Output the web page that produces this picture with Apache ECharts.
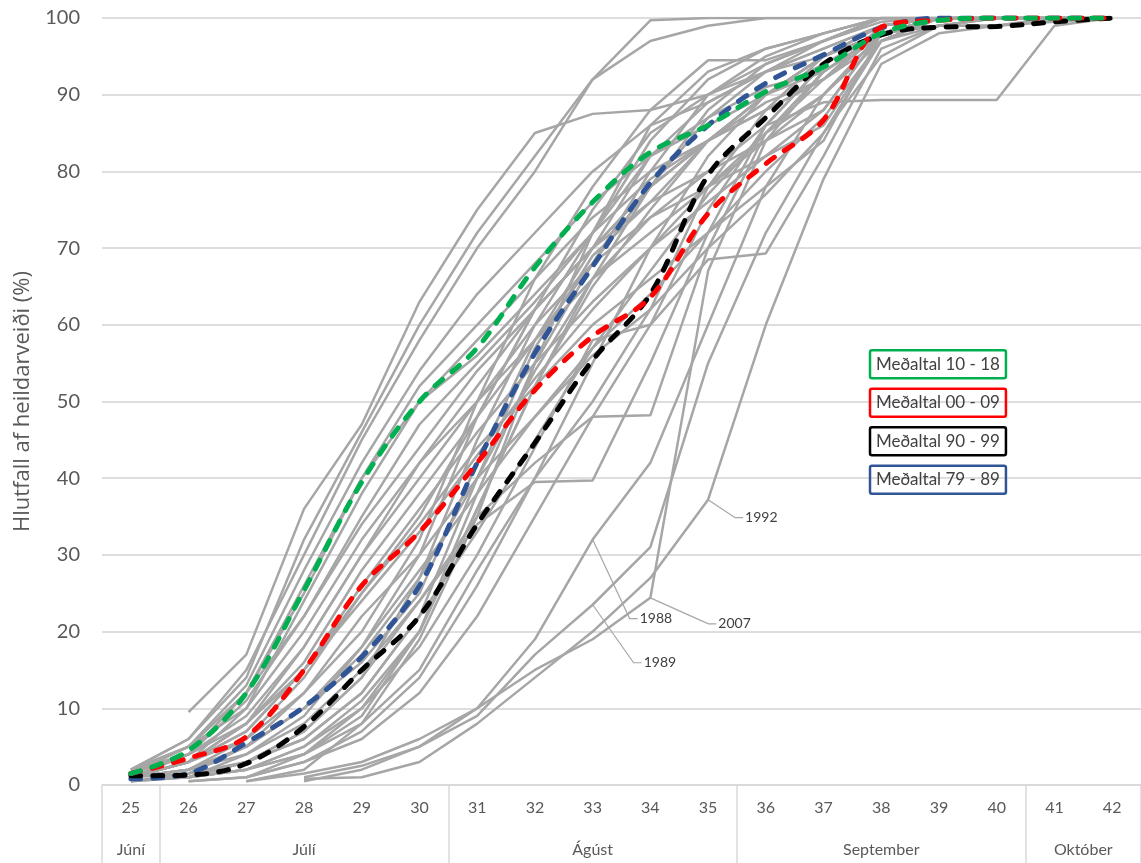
<!DOCTYPE html>
<html>
<head>
<meta charset="utf-8">
<script src="https://cdn.jsdelivr.net/npm/echarts@6/dist/echarts.min.js"></script>
<style>
  html, body { margin: 0; padding: 0; background: #ffffff; }
  #chart { width: 1141px; height: 863px; }
</style>
</head>
<body>
<div id="chart"></div>
<script>
// Week numbers on the x axis (25 .. 42)
const weeks = ['25','26','27','28','29','30','31','32','33','34','35','36','37','38','39','40','41','42'];

// Months grouping the weeks: name and index of first / last week + 1
const monthNames = ['Júní', 'Júlí', 'Ágúst', 'September', 'Október'];
const monthBounds = [0, 1, 6, 11, 16, 18];

// Cumulative share of the season's catch (%) per week, one list per year
const s1979 = [null, 1, 3, 7, 14, 27, 45, 60, 72, 84, 92, 96, 98, 100, 100, 100, 100, 100];
const s1980 = [0.5, 1, 4, 9, 18, 30, 48, 62, 70, 78, 88, 94, 97, 100, 100, 100, 100, 100];
const s1981 = [null, null, 1, 4, 10, 20, 38, 55, 68, 80, 90, 95, 98, 100, 100, 100, 100, 100];
const s1982 = [1, 2, 6, 12, 20, 32, 50, 66, 78, 88, 94.5, 94.5, 97, 100, 100, 100, 100, 100];
const s1983 = [0.5, 1.5, 5, 10, 16, 25, 42, 58, 70, 82, 89, 93, 96, 99, 100, 100, 100, 100];
const s1984 = [1, 1.5, 3, 6, 12, 22, 40, 57, 69, 76, 84, 90, 95, 99, 100, 100, 100, 100];
const s1985 = [null, 1, 2, 5, 11, 20, 36, 52, 66, 78, 87, 93, 97, 100, 100, 100, 100, 100];
const s1986 = [null, null, 0.5, 2, 8, 19, 35, 55, 72, 86, 93, 96, 98, 100, 100, 100, 100, 100];
const s1987 = [1, 3, 8, 15, 25, 35, 48, 62, 75, 85, 90, 94, 97, 99.5, 100, 100, 100, 100];
const s1988 = [null, null, null, 0.5, 2, 5, 10, 19, 32, 42, 60, 78, 90, 97, 99, 100, 100, 100];
const s1989 = [null, null, null, 1, 2.5, 5, 9, 17, 23.5, 31, 55, 72, 85, 95, 99, 100, 100, 100];
const s1990 = [null, 1, 2, 4, 8, 15, 28, 40, 50, 62, 78, 88, 95, 98, 99, 99, 100, 100];
const s1991 = [null, 0.5, 1, 3, 6, 12, 22, 35, 48, 60, 75, 86, 94, 98, 99, 99, 99.5, 100];
const s1992 = [null, null, null, 0.8, 1, 3, 8, 14, 20, 27, 37.2, 60, 79, 94, 98, 99, 100, 100];
const s1993 = [1, 2, 4, 8, 15, 24, 35, 42, 48, 48.2, 70, 85, 93, 98, 100, 100, 100, 100];
const s1994 = [null, 1, 3, 7, 14, 24, 34, 39.5, 39.7, 55, 72, 86, 94, 98, 100, 100, 100, 100];
const s1995 = [null, 1, 2, 5, 10, 18, 30, 44, 58, 60, 68.5, 69.3, 82, 96, 99, 100, 100, 100];
const s1996 = [0.5, 1, 2, 4, 9, 20, 36, 52, 65, 75, 84, 90, 95, 98, 99, 100, 100, 100];
const s1997 = [null, 0.5, 1, 3, 7, 14, 26, 40, 55, 70, 82, 90, 95, 99, 100, 100, 100, 100];
const s1998 = [1, 2, 5, 10, 17, 27, 40, 54, 66, 74, 80, 86, 89, 89.3, 89.3, 89.3, 99, 100];
const s1999 = [null, 1, 3, 6, 12, 22, 33, 45, 57, 67, 77, 85, 92, 98, 100, 100, 100, 100];
const s2000 = [1, 3, 7, 15, 26, 36, 46, 55, 63, 70, 76, 82, 88, 98, 100, 100, 100, 100];
const s2001 = [2, 4, 8, 16, 28, 38, 48, 58, 66, 72, 78, 84, 90, 98, 100, 100, 100, 100];
const s2002 = [1, 3, 6, 14, 25, 34, 44, 52, 60, 66, 72, 80, 87, 97, 100, 100, 100, 100];
const s2003 = [2, 5, 10, 20, 32, 42, 52, 62, 70, 78, 84, 88, 92, 99, 100, 100, 100, 100];
const s2004 = [1, 3, 7, 15, 24, 33, 43, 53, 62, 70, 78, 85, 90, 98, 100, 100, 100, 100];
const s2005 = [null, 2, 5, 12, 22, 30, 40, 48, 56, 62, 70, 77, 85, 97, 100, 100, 100, 100];
const s2006 = [1, 2, 5, 10, 18, 28, 38, 48, 57, 64, 72, 78, 84, 98, 100, 100, 100, 100];
const s2007 = [null, null, 0.5, 1.5, 3, 6, 10, 15, 19, 24.4, 67, 84, 93, 98, 100, 100, 100, 100];
const s2008 = [1, 4, 9, 18, 30, 40, 50, 60, 68, 74, 78, 82, 86, 97, 100, 100, 100, 100];
const s2009 = [2, 5, 12, 22, 34, 44, 54, 62, 70, 76, 80, 84, 88, 98, 100, 100, 100, 100];
const s2010 = [2, 6, 15, 30, 45, 58, 70, 80, 92, 97, 99, 100, 100, 100, 100, 100, 100, 100];
const s2011 = [1.5, 4, 12, 26, 40, 52, 60, 68, 76, 82, 86, 90, 93, 98, 100, 100, 100, 100];
const s2012 = [null, 9.5, 17, 36, 47, 63, 75, 85, 87.5, 88, 90, 93, 96, 99, 100, 100, 100, 100];
const s2013 = [1, 3, 10, 24, 38, 50, 58, 66, 74, 80, 84, 88, 92, 97, 100, 100, 100, 100];
const s2014 = [1.5, 5, 13, 28, 42, 54, 64, 72, 80, 86, 89, 93, 95, 98, 100, 100, 100, 100];
const s2015 = [2, 6, 14, 32, 46, 60, 72, 82, 92, 99.7, 100, 100, 100, 100, 100, 100, 100, 100];
const s2016 = [1, 4, 11, 22, 35, 47, 55, 63, 72, 79, 84, 89, 92, 98, 100, 100, 100, 100];
const s2017 = [1, 3, 8, 18, 30, 42, 50, 58, 68, 78, 84, 90, 94, 98, 100, 100, 100, 100];
const s2018 = [1.5, 5, 12, 25, 40, 50, 56, 64, 72, 82, 87, 91, 93, 98, 100, 100, 100, 100];

// Decade averages (%)
const avg1018 = [1.5, 4.5, 12, 25.4, 39.5, 50, 57, 67.5, 76, 82.5, 86, 90.4, 93.6, 98, 99.7, 100, 100, 100];
const avg0009 = [1.5, 3.5, 6.3, 15, 26, 33, 42, 51.5, 58.5, 63.6, 74.5, 81, 86.7, 98.8, 99.7, 100, 100, 100];
const avg9099 = [1.2, 1.3, 2.8, 7.6, 15, 22, 34, 44.6, 55.4, 64, 79.5, 87, 94, 97.8, 98.8, 98.9, 99.5, 100];
const avg7989 = [0.8, 1.5, 5.5, 10.2, 16.7, 26, 42, 56.3, 67.6, 78.5, 86, 91.5, 95.2, 98.7, 100, 100, 100, 100];

const yearly = {
  1979: s1979, 1980: s1980, 1981: s1981, 1982: s1982, 1983: s1983, 1984: s1984, 1985: s1985,
  1986: s1986, 1987: s1987, 1988: s1988, 1989: s1989, 1990: s1990, 1991: s1991, 1992: s1992,
  1993: s1993, 1994: s1994, 1995: s1995, 1996: s1996, 1997: s1997, 1998: s1998, 1999: s1999,
  2000: s2000, 2001: s2001, 2002: s2002, 2003: s2003, 2004: s2004, 2005: s2005, 2006: s2006,
  2007: s2007, 2008: s2008, 2009: s2009, 2010: s2010, 2011: s2011, 2012: s2012, 2013: s2013,
  2014: s2014, 2015: s2015, 2016: s2016, 2017: s2017, 2018: s2018
};

const averages = [
  { name: 'Meðaltal 79 - 89', data: avg7989, color: '#2f5597' },
  { name: 'Meðaltal 90 - 99', data: avg9099, color: '#000000' },
  { name: 'Meðaltal 00 - 09', data: avg0009, color: '#ff0000' },
  { name: 'Meðaltal 10 - 18', data: avg1018, color: '#00b050' }
];
const legendOrder = ['Meðaltal 10 - 18', 'Meðaltal 00 - 09', 'Meðaltal 90 - 99', 'Meðaltal 79 - 89'];

// Years whose late run gets a callout, with the week it points at
const callouts = [
  { year: 1992, week: '35', dx: 27, dy: 18 },
  { year: 2007, week: '34', dx: 58, dy: 26 },
  { year: 1988, week: '33', dx: 37, dy: 79 },
  { year: 1989, week: '33', dx: 41, dy: 58 }
];

const FONT = 'Lato, "Open Sans", sans-serif';
const TITLE_FONT = '"Open Sans", Lato, sans-serif';
const AXIS_TEXT = '#595959';
const GRID_LINE = '#dedede';

// Month label sits at the middle of its week span
const monthMid = monthNames.map((m, i) => (monthBounds[i] + monthBounds[i + 1]) / 2);

const series = [];
Object.keys(yearly).forEach(y => {
  series.push({
    name: y,
    type: 'line',
    data: yearly[y],
    symbol: 'none',
    silent: true,
    z: 2,
    lineStyle: { color: '#a6a6a6', width: 2.5 },
    emphasis: { disabled: true }
  });
});
averages.forEach((a, i) => {
  series.push({
    name: a.name,
    type: 'line',
    data: a.data,
    symbol: 'none',
    smooth: 0.35,
    z: 5 + i,
    color: a.color,
    lineStyle: { color: a.color, width: 5, type: [10, 12], cap: 'round' },
    emphasis: { disabled: true }
  });
});

const chart = echarts.init(document.getElementById('chart'), null, { renderer: 'canvas' });
chart.setOption({
  animation: false,
  backgroundColor: '#ffffff',
  textStyle: { fontFamily: FONT },
  grid: { left: 102, top: 18, width: 1044, height: 767, containLabel: false },
  legend: {
    show: true,
    orient: 'vertical',
    left: 860,
    top: 344,
    itemGap: 8,
    icon: 'none',
    itemWidth: 0,
    itemHeight: 0,
    selectedMode: false,
    data: legendOrder.map(n => {
      const a = averages.find(x => x.name === n);
      return {
        name: n,
        textStyle: {
          color: '#404040',
          fontSize: 17,
          fontFamily: FONT,
          borderColor: a.color,
          borderWidth: 2.5,
          borderRadius: 2,
          padding: [6, 6, 5, 6]
        }
      };
    })
  },
  xAxis: [
    {
      type: 'category',
      data: weeks,
      boundaryGap: true,
      axisLine: { show: true, lineStyle: { color: '#d9d9d9', width: 1.5 } },
      axisTick: { show: false },
      axisLabel: { color: AXIS_TEXT, fontSize: 16, fontFamily: FONT, margin: 15 },
      splitLine: { show: false }
    },
    {
      type: 'value',
      min: 0,
      max: monthBounds[monthBounds.length - 1],
      position: 'bottom',
      axisLine: { show: false },
      splitLine: { show: false },
      axisTick: {
        show: true,
        customValues: monthBounds,
        length: 80,
        lineStyle: { color: '#d9d9d9', width: 1.5 }
      },
      axisLabel: {
        show: true,
        customValues: monthMid,
        margin: 57,
        color: AXIS_TEXT,
        fontSize: 16,
        fontFamily: FONT,
        formatter: v => {
          const i = monthMid.findIndex(m => Math.abs(m - v) < 1e-6);
          return i >= 0 ? monthNames[i] : '';
        }
      }
    }
  ],
  yAxis: {
    type: 'value',
    min: 0,
    max: 100,
    interval: 10,
    name: 'Hlutfall af heildarveiði (%)',
    nameLocation: 'middle',
    nameGap: 68,
    nameTextStyle: { color: AXIS_TEXT, fontSize: 22, fontFamily: TITLE_FONT },
    axisLine: { show: false },
    axisTick: { show: false },
    axisLabel: { color: AXIS_TEXT, fontSize: 20, fontFamily: FONT, margin: 22 },
    splitLine: { show: true, lineStyle: { color: GRID_LINE, width: 2 } }
  },
  series: series
});

// Callout labels with leader lines for the latest seasons
const graphics = [];
callouts.forEach(c => {
  const v = yearly[c.year][weeks.indexOf(c.week)];
  const p = chart.convertToPixel({ xAxisIndex: 0, yAxisIndex: 0 }, [c.week, v]);
  const ex = p[0] + c.dx, ey = p[1] + c.dy;
  graphics.push({
    type: 'polyline',
    z: 50,
    silent: true,
    shape: { points: [[p[0], p[1]], [ex, ey], [ex + 8, ey]] },
    style: { stroke: '#a6a6a6', lineWidth: 1.2, fill: null }
  });
  graphics.push({
    type: 'text',
    z: 50,
    silent: true,
    x: ex + 10,
    y: ey,
    style: { text: String(c.year), fill: '#404040', font: '14px ' + FONT, verticalAlign: 'middle', align: 'left' }
  });
});
chart.setOption({ graphic: graphics });
</script>
</body>
</html>
